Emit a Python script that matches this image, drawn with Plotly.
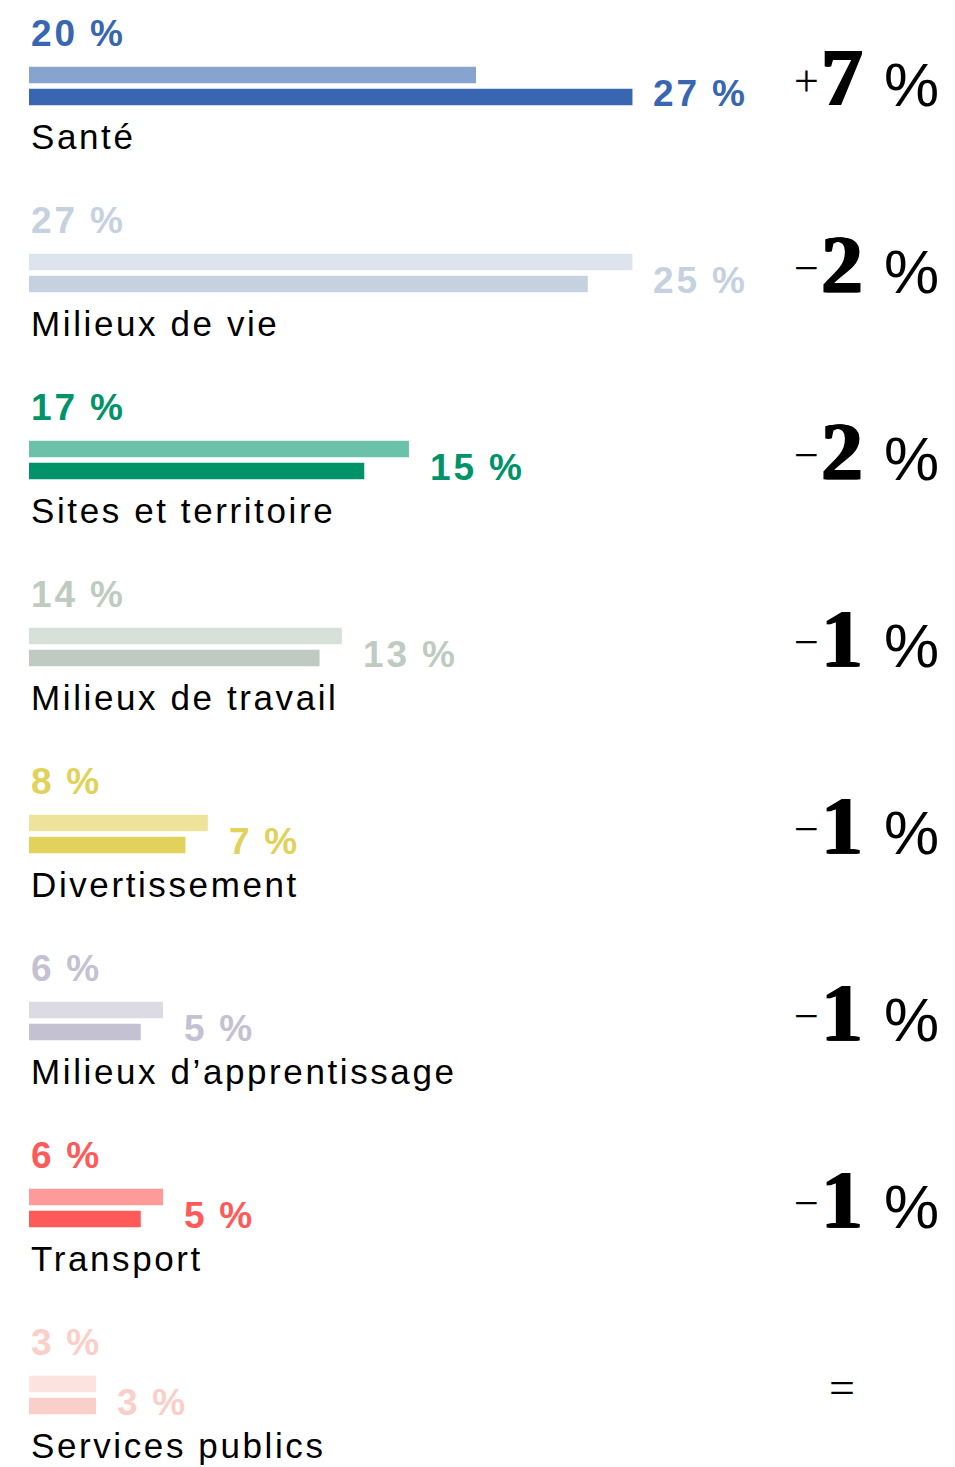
import plotly.graph_objects as go

# ---- data ----
categories = ["Santé", "Milieux de vie", "Sites et territoire", "Milieux de travail",
              "Divertissement", "Milieux d’apprentissage", "Transport", "Services publics"]
old_values = [20, 27, 17, 14, 8, 6, 6, 3]
new_values = [27, 25, 15, 13, 7, 5, 5, 3]
old_colors = ["#87A4CF", "#DDE4EE", "#6CC2A9", "#D7E0D9", "#EEE39A", "#DCDBE4", "#FF9A9A", "#FDE3E0"]
new_colors = ["#3866B0", "#C6D1E0", "#00936A", "#BFCBC1", "#E0D25A", "#C4C1D2", "#FF5A5A", "#FBCFC9"]

# ---- layout parameters (pixels) ----
W, H = 955, 1467
X0 = 29            # left edge of bars
PX_PER_UNIT = 22.35
GROUP = 187        # vertical spacing between groups
TOP_BAR = 75       # centre of first (old) bar
BOT_BAR = 97       # centre of second (new) bar
BAR_W = 16.5

SANS = "Liberation Sans"
SERIF = "Liberation Serif"

def spaced(t, sp):
    return f'<span style="letter-spacing:{sp}px">{t}</span>'

def pct(v):
    return "<b>" + spaced(str(v), 3) + spaced(" %", 1.5) + "</b>"

fig = go.Figure()
n = len(categories)
top_y = [TOP_BAR + GROUP * i for i in range(n)]
bot_y = [BOT_BAR + GROUP * i for i in range(n)]

fig.add_trace(go.Bar(orientation="h", x=old_values, y=top_y, width=BAR_W,
                     marker=dict(color=old_colors, line=dict(width=0)),
                     hoverinfo="skip", showlegend=False))
fig.add_trace(go.Bar(orientation="h", x=new_values, y=bot_y, width=BAR_W,
                     marker=dict(color=new_colors, line=dict(width=0)),
                     hoverinfo="skip", showlegend=False))

ann = []
def py(px):
    """pixel row -> paper y"""
    return 1 - px / H

def base_y(baseline, size, desc=0.212):
    return py(baseline + desc * size + 1)

LBL = 37
NAME = 35
for i in range(n):
    off = GROUP * i
    # old value label above bars
    ann.append(dict(x=0, y=base_y(47 + off, LBL), xref="x", yref="paper",
                    xanchor="left", yanchor="bottom", showarrow=False,
                    text=pct(old_values[i]),
                    font=dict(family=SANS, size=LBL, color=new_colors[i])))
    # new value label right of bars
    ann.append(dict(x=max(old_values[i], new_values[i]) + 0.85, y=base_y(107 + off, LBL),
                    xref="x", yref="paper", xanchor="left", yanchor="bottom", showarrow=False,
                    text=pct(new_values[i]),
                    font=dict(family=SANS, size=LBL, color=new_colors[i])))
    # category name
    ann.append(dict(x=0, y=base_y(150 + off, NAME), xref="x", yref="paper",
                    xanchor="left", yanchor="bottom", showarrow=False,
                    text=spaced(categories[i], 2.6),
                    font=dict(family=SANS, size=NAME, color="#000000")))
    # change indicator
    d = new_values[i] - old_values[i]
    bl = 106 + off
    if d == 0:
        ann.append(dict(x=842 / W, y=py(bl - 28), xref="paper", yref="paper",
                        xanchor="center", yanchor="middle", showarrow=False,
                        text="=", font=dict(family=SERIF, size=46, color="#000000")))
    else:
        sign = "+" if d > 0 else "\u2212"
        ann.append(dict(x=806 / W, y=py(bl - 25), xref="paper", yref="paper",
                        xanchor="center", yanchor="middle", showarrow=False,
                        text=sign, font=dict(family=SERIF, size=44, color="#000000")))
        ann.append(dict(x=818 / W, y=base_y(bl, 82, 0.216), xref="paper", yref="paper",
                        xanchor="left", yanchor="bottom", showarrow=False,
                        text=f"<b>{abs(d)}</b>",
                        font=dict(family=SERIF, size=82, color="#000000",
                                  shadow="1px 0px 0px #000, 2px 0px 0px #000, 3px 0px 0px #000")))
        ann.append(dict(x=882 / W, y=base_y(bl + 1, 62), xref="paper", yref="paper",
                        xanchor="left", yanchor="bottom", showarrow=False,
                        text="%", font=dict(family=SANS, size=62, color="#000000")))

fig.update_layout(
    width=W, height=H,
    margin=dict(l=0, r=0, t=0, b=0),
    paper_bgcolor="white", plot_bgcolor="white",
    barmode="overlay",
    xaxis=dict(range=[-X0 / PX_PER_UNIT, (W - X0) / PX_PER_UNIT], visible=False, fixedrange=True),
    yaxis=dict(range=[H, 0], visible=False, fixedrange=True),
    annotations=ann,
)

fig.write_html("out.html", config={"displayModeBar": False},
               post_script="document.body.style.margin='0';document.body.style.overflow='hidden';")
